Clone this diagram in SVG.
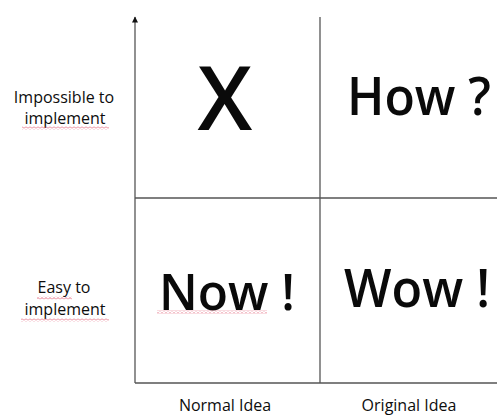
<svg xmlns="http://www.w3.org/2000/svg" width="497" height="416" viewBox="0 0 497 416">
  <defs>
    <marker id="arrow" viewBox="0 0 10 10" refX="9" refY="5" markerWidth="7" markerHeight="6" markerUnits="userSpaceOnUse" orient="auto">
      <path d="M0,0 L10,5 L0,10 Z" fill="#111"/>
    </marker>
    <pattern id="squig" x="0" y="0" width="4" height="3" patternUnits="userSpaceOnUse">
      <path d="M0,2.5 L2,0.5 L4,2.5" fill="none" stroke="#e0506a" stroke-width="0.8"/>
    </pattern>
    <style>
      .ax { stroke: #555; stroke-width: 1.3; fill: none; }
      .big { font-family: "Open Sans", "Liberation Sans", sans-serif; font-weight: 600; fill: #0a0a0a; }
      .lbl { font-family: "Open Sans", "Liberation Sans", sans-serif; font-size: 16px; fill: #0d0d0d; text-anchor: middle; }
    </style>
  </defs>
  <rect width="497" height="416" fill="#ffffff"/>

  <g id="connectors">
    <line class="ax" x1="135" y1="383" x2="135" y2="17" marker-end="url(#arrow)"/>
    <line class="ax" x1="135" y1="383" x2="497" y2="383"/>
    <line class="ax" x1="135" y1="198" x2="497" y2="198"/>
    <line class="ax" x1="320" y1="17" x2="320" y2="383"/>
  </g>

  <g id="quadrant-x">
    <text class="big" x="225" y="130" font-size="88" text-anchor="middle">X</text>
  </g>
  <g id="quadrant-how">
    <text class="big" x="347" y="115" font-size="52" textLength="144" lengthAdjust="spacingAndGlyphs">How ?</text>
  </g>
  <g id="quadrant-now">
    <text class="big" x="159" y="310" font-size="51" textLength="136" lengthAdjust="spacingAndGlyphs">Now !</text>
    <rect x="157" y="310.5" width="110" height="3" fill="url(#squig)"/>
  </g>
  <g id="quadrant-wow">
    <text class="big" x="344" y="307" font-size="52" textLength="146" lengthAdjust="spacingAndGlyphs">Wow !</text>
  </g>

  <g id="label-impossible">
    <text class="lbl" x="64" y="103">Impossible to</text>
    <text class="lbl" x="65" y="124">implement</text>
    <rect x="22" y="126.5" width="87" height="3" fill="url(#squig)"/>
  </g>
  <g id="label-easy">
    <text class="lbl" x="64" y="293">Easy to</text>
    <rect x="37" y="296.5" width="35" height="3" fill="url(#squig)"/>
    <text class="lbl" x="65" y="315">implement</text>
    <rect x="21" y="318.5" width="88" height="3" fill="url(#squig)"/>
  </g>
  <g id="label-normal">
    <text class="lbl" x="225" y="411">Normal Idea</text>
  </g>
  <g id="label-original">
    <text class="lbl" x="409" y="411">Original Idea</text>
  </g>
</svg>
